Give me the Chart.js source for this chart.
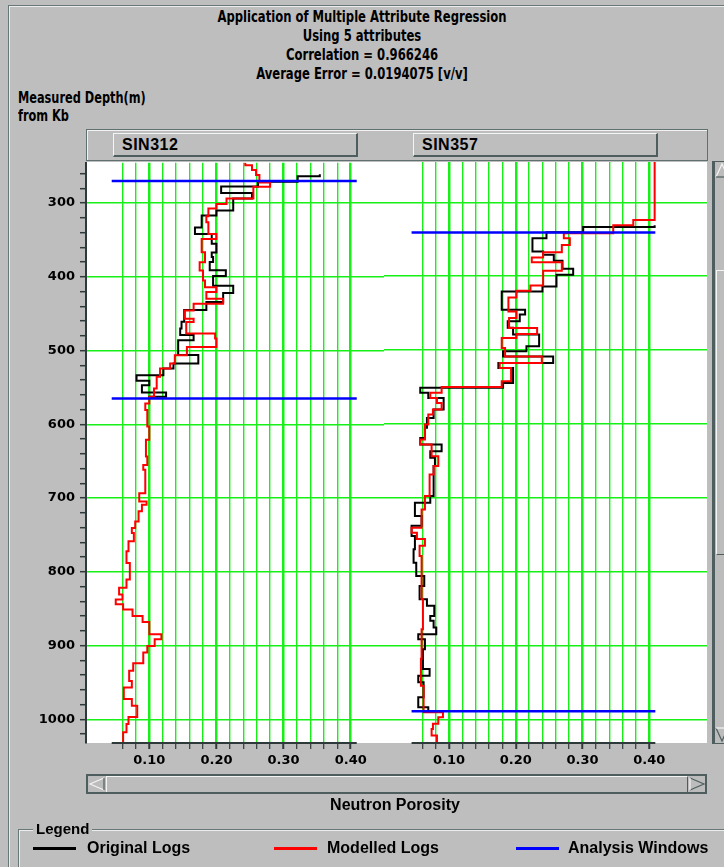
<!DOCTYPE html>
<html>
<head>
<meta charset="utf-8">
<title>Application of Multiple Attribute Regression</title>
<script src="https://cdn.jsdelivr.net/npm/chart.js@4.4.1/dist/chart.umd.min.js"></script>
<style>
  html, body { margin: 0; padding: 0; }
  body {
    width: 724px; height: 867px; overflow: hidden; position: relative;
    background: #bebebe; color: #000;
    font-family: "Liberation Sans", Arial, sans-serif; font-weight: bold;
  }
  .abs { position: absolute; }
  .narrow { font-family: "Liberation Sans Narrow", "DejaVu Sans Condensed", sans-serif; }
  .outer { left: 8px; top: 5px; width: 740px; height: 900px;
           border-top: 1px solid #687878; border-left: 1px solid #687878;
           box-shadow: inset 1px 1px 0 #ececec; }
  .title { left: 0; top: 8px; width: 724px; text-align: center; font-size: 15px; line-height: 19px;
           transform: scaleX(0.86); transform-origin: 50% 0; }
  .ylab { left: 18px; top: 89px; font-size: 15px; line-height: 18px;
          transform: scaleX(0.84); transform-origin: 0 0; }
  .header { left: 86px; top: 129px; width: 620px; height: 30px;
            border: 1px solid #607070; box-shadow: inset 1px 1px 0 #f2f2f2; }
  .btn { top: 133px; background: #bebebe;
         border-top: 1px solid #f4f4f4; border-left: 1px solid #f4f4f4;
         border-right: 2px solid #4e5e5e; border-bottom: 2px solid #4e5e5e;
         font-size: 16px; letter-spacing: 0.5px; line-height: 21px; padding-left: 8px;
         box-sizing: border-box; width: 245px; height: 24px; }
  .plotbg { left: 86px; top: 162px; width: 621px; height: 581px; background: #fff; }
  canvas { position: absolute; }
  .vscroll { left: 712px; top: 161px; width: 20px; height: 583px;
             border-left: 3px solid #4e5e5e; border-top: 1px solid #4e5e5e; border-bottom: 1px solid #4e5e5e;
             background: #bcbcbc; box-sizing: border-box; }
  .vthumb { left: 716px; top: 270px; width: 14px; height: 283px;
            border-top: 1px solid #f4f4f4; border-left: 1px solid #f4f4f4; border-bottom: 1px solid #4e5e5e; }
  .hscroll { left: 86px; top: 774px; width: 621px; height: 20px;
             border: 2px solid #4e5e5e; background: #bcbcbc; box-sizing: border-box; }
  .hthumb { left: 106px; top: 776px; width: 582px; height: 16px; box-sizing: border-box;
            border-top: 1px solid #f4f4f4; border-left: 1px solid #f4f4f4; border-right: 1px solid #4e5e5e; }
  .arrows { left: 0; top: 0; width: 724px; height: 867px; pointer-events: none; }
  .xlab { left: 0; top: 796px; width: 790px; text-align: center; font-size: 16px; line-height: 18px; }
  .legframe { left: 18px; top: 829px; width: 720px; height: 60px;
              border-top: 1px solid #687878; border-left: 1px solid #687878;
              box-shadow: inset 1px 1px 0 #ececec; }
  .legtitle { left: 33px; top: 820px; padding: 0 3px; background: #bebebe; font-size: 15px; line-height: 18px; }
  .legline { height: 3px; top: 847px; }
  .legtext { top: 839px; font-size: 16px; line-height: 18px; }
</style>
</head>
<body>
<div class="abs outer"></div>
<div class="abs title narrow">Application of Multiple Attribute Regression<br>Using 5 attributes<br>Correlation = 0.966246<br>Average Error = 0.0194075 [v/v]</div>
<div class="abs ylab narrow">Measured Depth(m)<br>from Kb</div>

<div class="abs header"></div>
<div class="abs btn" style="left:113px">SIN312</div>
<div class="abs btn" style="left:413px">SIN357</div>

<div class="abs plotbg"></div>
<canvas id="well312" width="384" height="630" style="left:0px;top:150px"></canvas>
<canvas id="well357" width="323" height="630" style="left:384px;top:150px"></canvas>

<div class="abs vscroll"></div>
<div class="abs vthumb"></div>
<div class="abs hscroll"></div>
<div class="abs hthumb"></div>
<svg class="abs arrows" width="724" height="867">
  <g fill="none" stroke-width="1.2">
    <!-- horizontal scrollbar arrows -->
    <polyline points="104,778 90,784 104,790" stroke="#f4f4f4"/>
    <line x1="104" y1="778" x2="104" y2="790" stroke="#4e5e5e"/>
    <polyline points="690,778 704,784 690,790" stroke="#4e5e5e"/>
    <line x1="690" y1="778" x2="690" y2="790" stroke="#f4f4f4"/>
    <!-- vertical scrollbar arrows -->
    <polyline points="716,177 722,164 728,177" stroke="#f4f4f4"/>
    <line x1="716" y1="177" x2="728" y2="177" stroke="#4e5e5e"/>
    <polyline points="716,728 722,741 728,728" stroke="#4e5e5e"/>
    <line x1="716" y1="728" x2="728" y2="728" stroke="#f4f4f4"/>
  </g>
</svg>
<div class="abs xlab">Neutron Porosity</div>

<div class="abs legframe"></div>
<div class="abs legtitle">Legend</div>
<div class="abs legline" style="left:33px;width:43px;background:#000"></div>
<div class="abs legtext" style="left:87px">Original Logs</div>
<div class="abs legline" style="left:274px;width:43px;background:#ff0000"></div>
<div class="abs legtext" style="left:327px">Modelled Logs</div>
<div class="abs legline" style="left:516px;width:43px;background:#0000ff"></div>
<div class="abs legtext" style="left:568px">Analysis Windows</div>

<script>
// Depth range shown (m, measured from Kelly bushing) and the porosity axis span (v/v)
const depthTop = 245.4;
const depthBottom = 1032.1;
const axisMin = 0.044;
const axisMax = 0.409;

// Tick labels
const depthLabels = [300, 400, 500, 600, 700, 800, 900, 1000];
const porosityLabels = [0.10, 0.20, 0.30, 0.40];

// Well SIN312: interval tops (last entry = base of the log) and porosity per interval
const sin312OrigDepth = [261, 263.5, 271, 277.5, 286.5, 293.7, 310, 317, 333, 342, 355, 367, 373, 380, 391, 399, 412, 422, 434, 445, 461, 470, 479, 486, 506, 517.6, 524.3, 533.4, 541, 547, 557, 562.6, 565];
const sin312Orig = [0.354, 0.321, 0.262, 0.207, 0.253, 0.225, 0.200, 0.178, 0.168, 0.193, 0.200, 0.193, 0.195, 0.190, 0.214, 0.195, 0.225, 0.210, 0.185, 0.152, 0.148, 0.146, 0.166, 0.143, 0.173, 0.136, 0.121, 0.081, 0.100, 0.089, 0.125, 0.100];

const sin312ModelDepth = [245, 248.6, 255, 262, 272, 278, 293.7, 301.4, 307.2, 318, 326, 342, 348.6, 366.7, 380.2, 391.4, 405, 414, 420.7, 429.7, 436.5, 445.5, 456.8, 461.3, 477, 483.8, 495, 506.3, 517.6, 524.3, 535.6, 551.4, 562.6, 571.6, 580.6, 603, 621, 643.7, 655, 661.7, 693.3, 704.5, 709, 718, 731.6, 740.6, 747.3, 758.6, 772, 787.9, 810.4, 821.6, 830.6, 837.4, 844, 851, 860, 868, 884.7, 891.5, 900.5, 909.5, 924, 934, 948, 956.8, 972.5, 981.5, 997, 1006.3, 1017.6, 1033];
const sin312Model = [0.243, 0.253, 0.259, 0.264, 0.280, 0.255, 0.215, 0.200, 0.188, 0.185, 0.188, 0.200, 0.178, 0.183, 0.175, 0.180, 0.183, 0.200, 0.185, 0.210, 0.166, 0.153, 0.166, 0.155, 0.198, 0.200, 0.156, 0.138, 0.131, 0.116, 0.111, 0.107, 0.100, 0.094, 0.097, 0.100, 0.095, 0.097, 0.091, 0.094, 0.085, 0.096, 0.089, 0.084, 0.079, 0.074, 0.077, 0.069, 0.066, 0.071, 0.066, 0.055, 0.060, 0.050, 0.061, 0.075, 0.090, 0.100, 0.118, 0.108, 0.097, 0.091, 0.076, 0.070, 0.074, 0.062, 0.074, 0.082, 0.069, 0.066, 0.061];

const sin312Windows = [270, 565];

// Well SIN357
const sin357OrigDepth = [331, 333.5, 340.5, 348.6, 366.7, 371, 379, 390, 398, 414, 420.7, 445.5, 452, 461, 470, 479, 495, 501.8, 508.6, 517.6, 524.3, 544.6, 551, 558, 565, 580.6, 592, 605.4, 619, 628, 637, 646, 657, 697.8, 706.8, 724.8, 738, 751.8, 769.8, 787.9, 805.9, 819.4, 837.4, 846.4, 860, 866.7, 875.7, 884.7, 891.5, 905, 932, 941, 950, 970.3, 983.8, 989];
const sin357Orig = [0.408, 0.301, 0.246, 0.225, 0.241, 0.257, 0.270, 0.286, 0.261, 0.240, 0.179, 0.214, 0.206, 0.188, 0.196, 0.235, 0.216, 0.181, 0.256, 0.174, 0.196, 0.181, 0.057, 0.069, 0.092, 0.077, 0.067, 0.064, 0.057, 0.089, 0.072, 0.079, 0.077, 0.072, 0.049, 0.059, 0.044, 0.049, 0.047, 0.051, 0.063, 0.056, 0.067, 0.078, 0.072, 0.077, 0.081, 0.054, 0.064, 0.061, 0.071, 0.054, 0.062, 0.054, 0.069];

const sin357ModelDepth = [245, 324, 331, 342, 348.6, 357.7, 367.6, 374.8, 381, 392.8, 412.6, 419.8, 428.8, 447.7, 456.8, 470.3, 478.4, 483.8, 497.3, 508.6, 517.6, 524.3, 542.4, 550, 558, 565, 571.6, 580.6, 587.4, 600.9, 621, 628, 643.7, 657, 668.5, 697.8, 715.8, 740.6, 747.3, 756, 765, 778.8, 837, 878, 918, 954.5, 990.5, 997.3, 1006, 1013, 1022, 1033];
const sin357Model = [0.408, 0.376, 0.346, 0.272, 0.281, 0.269, 0.241, 0.224, 0.269, 0.241, 0.222, 0.201, 0.189, 0.201, 0.190, 0.232, 0.201, 0.179, 0.184, 0.239, 0.176, 0.193, 0.179, 0.089, 0.072, 0.082, 0.089, 0.076, 0.069, 0.064, 0.057, 0.074, 0.084, 0.077, 0.071, 0.064, 0.059, 0.044, 0.052, 0.064, 0.056, 0.059, 0.061, 0.059, 0.058, 0.062, 0.091, 0.084, 0.076, 0.074, 0.082];

const sin357Windows = [341, 989];

// ---- helpers ----
// Blocky log: each value holds from its top down to the next top.
function logPoints(depths, values) {
  const pts = values.map((v, i) => ({ x: v, y: depths[i] }));
  pts.push({ x: values[values.length - 1], y: depths[values.length] });
  return pts;
}

function isLabelled(v, list) {
  return list.some(l => Math.abs(l - v) < 1e-6);
}

const GREEN = '#16f016';
const AXIS = '#2e3a3a';

// Porosity grid every 0.02 from 0.06 to 0.40
const porosityGrid = [];
for (let k = 3; k <= 20; k++) porosityGrid.push(+(k * 0.02).toFixed(2));

// Depth tick marks every 20 m
const depthMinor = [];
for (let d = 260; d <= 1020; d += 20) depthMinor.push(d);

// Draws the porosity axis baseline only over the axis span
const axisBaseline = {
  id: 'axisBaseline',
  afterDatasetsDraw(chart) {
    const x = chart.scales.x, area = chart.chartArea, ctx = chart.ctx;
    ctx.save();
    ctx.strokeStyle = AXIS;
    ctx.lineWidth = 2;
    ctx.beginPath();
    ctx.moveTo(x.getPixelForValue(axisMin), area.bottom);
    ctx.lineTo(x.getPixelForValue(axisMax), area.bottom);
    ctx.stroke();
    ctx.restore();
  }
};

Chart.defaults.font.family = '"DejaVu Sans", sans-serif';
Chart.defaults.font.size = 13;
Chart.defaults.font.weight = 'bold';
Chart.defaults.color = '#000';

function wellChart(canvasId, origDepth, orig, modelDepth, model, windows, view, withDepthAxis) {
  const datasets = [];
  windows.forEach(d => datasets.push({
    data: [{ x: axisMin, y: d }, { x: axisMax, y: d }],
    borderColor: '#0000ff', borderWidth: 2.5, order: 0
  }));
  datasets.push({ data: logPoints(modelDepth, model), borderColor: '#ff0000', borderWidth: 2, stepped: 'after', order: 1 });
  datasets.push({ data: logPoints(origDepth, orig), borderColor: '#000000', borderWidth: 2, stepped: 'after', order: 2 });
  datasets.forEach(ds => { ds.showLine = true; ds.pointRadius = 0; ds.fill = false; ds.tension = 0; });

  return new Chart(document.getElementById(canvasId), {
    type: 'scatter',
    data: { datasets },
    options: {
      responsive: false, animation: false, devicePixelRatio: 1,
      layout: { padding: { top: 12, left: 0, right: 0, bottom: 0 } },
      plugins: { legend: { display: false }, tooltip: { enabled: false }, title: { display: false } },
      scales: {
        x: {
          type: 'linear', position: 'bottom', min: view[0], max: view[1],
          afterBuildTicks: s => { s.ticks = porosityGrid.map(v => ({ value: v })); },
          afterFit: s => { s.height = 37; },
          border: { display: false },
          grid: {
            color: GREEN,
            lineWidth: c => (isLabelled(c.tick.value, porosityLabels) ? 2.5 : 1.4),
            tickColor: AXIS, tickLength: 6,
            tickWidth: c => (isLabelled(c.tick.value, porosityLabels) ? 2 : 1.2)
          },
          ticks: {
            autoSkip: false, maxRotation: 0, padding: 4,
            callback: v => (isLabelled(v, porosityLabels) ? v.toFixed(2) : '')
          }
        },
        y: {
          type: 'linear', reverse: true, min: depthTop, max: depthBottom,
          afterBuildTicks: s => {
            s.ticks = (withDepthAxis ? depthMinor : depthLabels).map(v => ({ value: v }));
          },
          afterFit: s => { s.width = withDepthAxis ? 86 : 0; },
          border: { display: withDepthAxis, color: AXIS, width: 2 },
          grid: {
            color: c => (isLabelled(c.tick.value, depthLabels) ? GREEN : 'rgba(0,0,0,0)'),
            lineWidth: 1.4,
            drawTicks: withDepthAxis, tickLength: 6, tickColor: AXIS, tickWidth: 1.5
          },
          ticks: {
            display: withDepthAxis, autoSkip: false, padding: 5,
            callback: v => (isLabelled(v, depthLabels) ? String(v) : '')
          }
        }
      }
    },
    plugins: [axisBaseline]
  });
}

wellChart('well312', sin312OrigDepth, sin312Orig, sin312ModelDepth, sin312Model, sin312Windows, [0.0057, 0.4496], true);
wellChart('well357', sin357OrigDepth, sin357Orig, sin357ModelDepth, sin357Model, sin357Windows, [0.0027, 0.4864], false);
</script>
</body>
</html>
